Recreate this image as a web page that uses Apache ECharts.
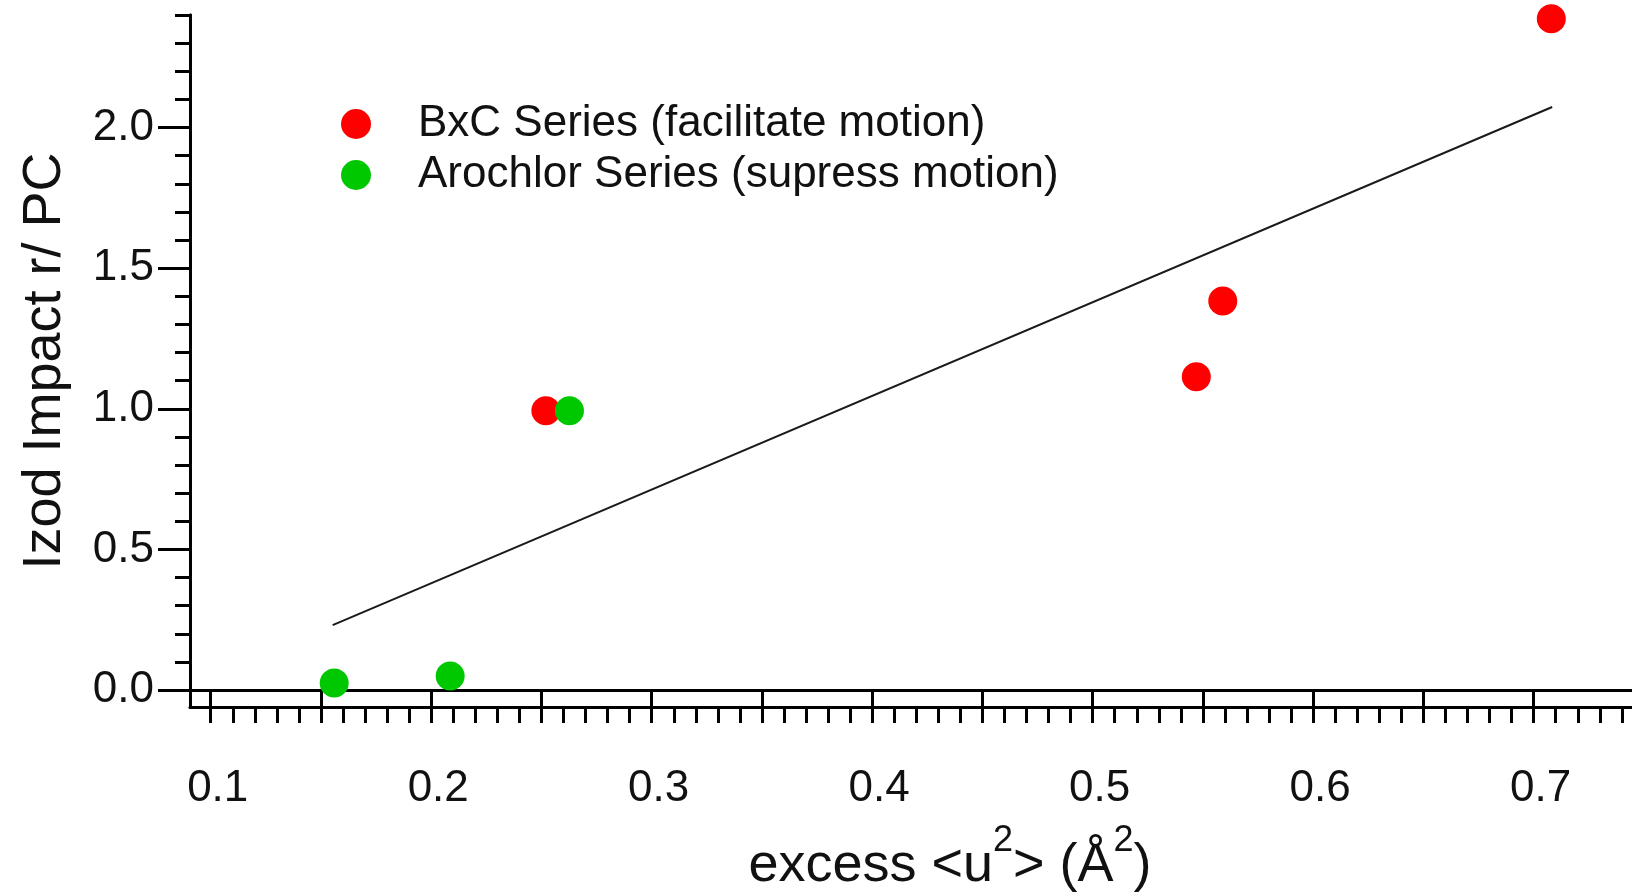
<!DOCTYPE html>
<html>
<head>
<meta charset="utf-8">
<title>Izod Impact vs excess u2</title>
<script src="https://cdn.jsdelivr.net/npm/echarts@6/dist/echarts.min.js"></script>
<style>
html,body{margin:0;padding:0;background:#fff;}
#chart{width:1632px;height:896px;}
</style>
</head>
<body>
<div id="chart"></div>
<script>
// BxC 系列（红点）
var bxcX = [0.252, 0.547, 0.559, 0.708];
var bxcY = [0.993, 1.114, 1.383, 2.387];
// Arochlor 系列（绿点）
var aroX = [0.156, 0.2086, 0.2627];
var aroY = [0.025, 0.050, 0.993];
// 拟合直线两端
var fitX = [0.1553, 0.7084];
var fitY = [0.231, 2.073];
// 刻度
var xMajor = [0.1, 0.2, 0.3, 0.4, 0.5, 0.6, 0.7];
var xMid = [0.15, 0.25, 0.35, 0.45, 0.55, 0.65];
var yMajor = [0.0, 0.5, 1.0, 1.5, 2.0];
var seriesNames = ['BxC Series (facilitate motion)', 'Arochlor Series (supress motion)'];

var font = "'Liberation Sans', Arial, sans-serif";

function pairs(xs, ys){
	var out = [];
	for(var i=0;i<xs.length;i++){
		out.push([xs[i], ys[i]]);
	}
	return out;
}

// 小刻度 0.01 / 0.1
var xMinor = [];
for(var i=10;i<=74;i++){ xMinor.push(i/100); }
var yMinor = [];
for(var j=0;j<=24;j++){ yMinor.push(j/10); }

var X_MIN = 0.0906, X_MAX = 0.7446;
var Y_MIN = -0.06, Y_MAX = 2.4;

function xAxisOf(ticks, len, withLabel){
	return {
		type:'value', position:'bottom', min:X_MIN, max:X_MAX,
		splitLine:{show:false},
		axisLine:{show:true, lineStyle:{color:'#000', width:3}},
		axisTick:{show:true, customValues:ticks, length:len, lineStyle:{color:'#000', width:3}},
		axisLabel:withLabel ? {
			show:true, customValues:ticks, margin:60, color:'#111',
			fontFamily:font, fontSize:44, padding:[0,0,0,14],
			formatter:function(v){ return v.toFixed(1); }
		} : {show:false}
	};
}
function yAxisOf(ticks, len, withLabel){
	return {
		type:'value', position:'left', min:Y_MIN, max:Y_MAX,
		splitLine:{show:false},
		axisLine:{show:true, lineStyle:{color:'#000', width:3}},
		axisTick:{show:true, customValues:ticks, length:len, lineStyle:{color:'#000', width:3}},
		axisLabel:withLabel ? {
			show:true, customValues:ticks, margin:36, color:'#111',
			fontFamily:font, fontSize:44, padding:[10,0,0,0],
			formatter:function(v){ return v.toFixed(1); }
		} : {show:false}
	};
}

var xAxes = [xAxisOf(xMajor, 32, true), xAxisOf(xMid, 23, false), xAxisOf(xMinor, 16, false)];
xAxes[0].name = '{a|excess <u}{s|2}{a|> (Å}{s|2}{a|)}';
xAxes[0].nameLocation = 'middle';
xAxes[0].nameGap = 126;
xAxes[0].nameTextStyle = {
	padding:[0,0,0,78],
	rich:{
		a:{fontFamily:font, fontSize:54, lineHeight:60, color:'#111', verticalAlign:'bottom'},
		s:{fontFamily:font, fontSize:36, lineHeight:36, color:'#111', padding:[0,0,44,0]}
	}
};

var yAxes = [yAxisOf(yMajor, 32, true), yAxisOf(yMinor, 15, false)];
yAxes[0].name = 'Izod Impact r/ PC';
yAxes[0].nameLocation = 'middle';
yAxes[0].nameGap = 118;
yAxes[0].nameTextStyle = {fontFamily:font, fontSize:54, color:'#111'};

var myChart = echarts.init(document.getElementById('chart'));
var option = {
	animation:false,
	backgroundColor:'#fff',
	grid:{left:190, right:0, top:15, bottom:189, containLabel:false, outerBoundsMode:'none'},
	legend:{
		data:seriesNames,
		orient:'vertical', left:336, top:97,
		itemWidth:30, itemHeight:30, itemGap:7,
		icon:'circle',
		textStyle:{fontFamily:font, fontSize:44, lineHeight:44, color:'#111', padding:[0,0,0,42]}
	},
	xAxis:xAxes,
	yAxis:yAxes,
	series:[
		{
			name:'fit', type:'line', xAxisIndex:0, yAxisIndex:0,
			data:pairs(fitX, fitY), showSymbol:false, silent:true,
			lineStyle:{color:'#1a1a1a', width:2}
		},
		{
			name:seriesNames[0], type:'scatter', xAxisIndex:0, yAxisIndex:0,
			data:pairs(bxcX, bxcY), symbol:'circle', symbolSize:29,
			itemStyle:{color:'#ff0000', opacity:1}
		},
		{
			name:seriesNames[1], type:'scatter', xAxisIndex:0, yAxisIndex:0,
			data:pairs(aroX, aroY), symbol:'circle', symbolSize:29,
			itemStyle:{color:'#00c800', opacity:1}
		}
	]
};
myChart.setOption(option);
</script>
</body>
</html>
